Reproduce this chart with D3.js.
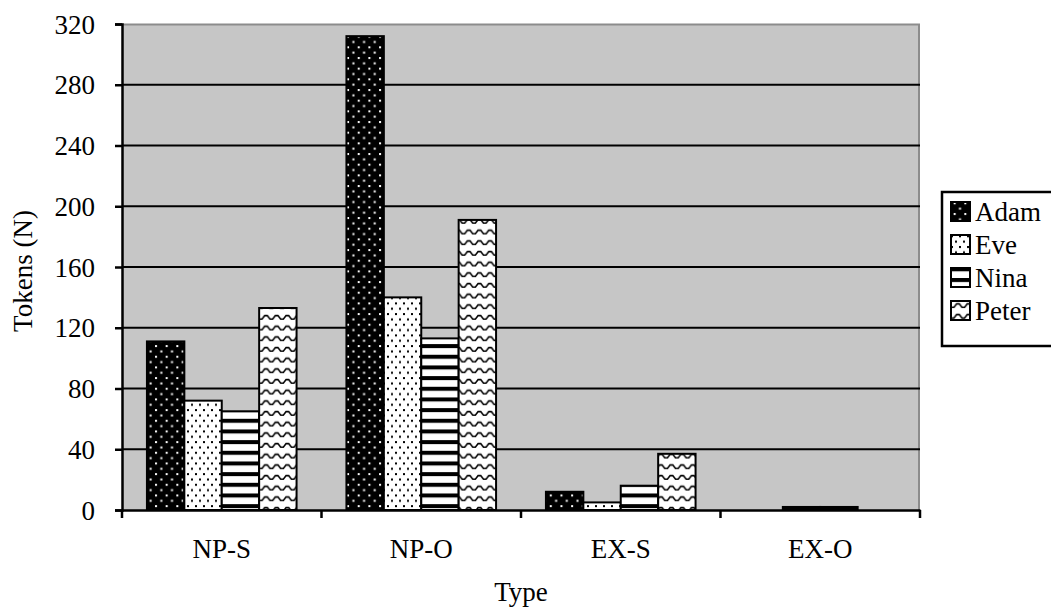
<!DOCTYPE html>
<html>
<head>
<meta charset="utf-8">
<script src="https://cdn.jsdelivr.net/npm/d3@7"></script>
<style>
  body { margin: 0; background: #fff; }
  svg text { font-family: "Times New Roman", "Liberation Serif", "DejaVu Serif", serif; fill: #000; }
</style>
</head>
<body>
<div id="chartDiv"></div>
<script>
// data
var categories = ["NP-S", "NP-O", "EX-S", "EX-O"];
var seriesNames = ["Adam", "Eve", "Nina", "Peter"];
var adam  = [111, 312, 12, 0];
var eve   = [72, 140, 5, 2];
var nina  = [65, 113, 16, 2];
var peter = [133, 191, 37, 0];
var yTicks = [0, 40, 80, 120, 160, 200, 240, 280, 320];

var seriesValues = [adam, eve, nina, peter];
var FONT = "'Times New Roman', 'Liberation Serif', 'DejaVu Serif', serif";

var W = 1051, H = 610;
var margin = {top: 24, right: 131, bottom: 100, left: 122};
var width = W - margin.left - margin.right,
    height = H - margin.top - margin.bottom;

var svg = d3.select("#chartDiv").append("svg")
    .attr("width", W).attr("height", H)
    .attr("font-family", FONT);

// fill patterns (Excel-style)
var defs = svg.append("defs");
var s = 10.67;

var pAdam = defs.append("pattern").attr("id", "p-adam")
    .attr("patternUnits", "userSpaceOnUse").attr("width", s).attr("height", s);
pAdam.append("rect").attr("width", s).attr("height", s).attr("fill", "#000");
pAdam.append("rect").attr("x", 1).attr("y", 1).attr("width", 2).attr("height", 2).attr("fill", "#fff");
pAdam.append("rect").attr("x", 1 + s / 2).attr("y", 1 + s / 2).attr("width", 2).attr("height", 2).attr("fill", "#fff");

var pEve = defs.append("pattern").attr("id", "p-eve")
    .attr("patternUnits", "userSpaceOnUse").attr("width", 8).attr("height", s);
pEve.append("rect").attr("width", 8).attr("height", s).attr("fill", "#fff");
[[1, 1], [5, 1 + s / 2]].forEach(function(p) {
  pEve.append("rect").attr("x", p[0]).attr("y", p[1]).attr("width", 2).attr("height", 2).attr("fill", "#000");
});

var pNina = defs.append("pattern").attr("id", "p-nina")
    .attr("patternUnits", "userSpaceOnUse").attr("width", s).attr("height", s);
pNina.append("rect").attr("width", s).attr("height", s).attr("fill", "#fff");
pNina.append("rect").attr("y", 0).attr("width", s).attr("height", 4).attr("fill", "#000");

var pPeter = defs.append("pattern").attr("id", "p-peter")
    .attr("patternUnits", "userSpaceOnUse").attr("width", s).attr("height", s);
pPeter.append("rect").attr("width", s).attr("height", s).attr("fill", "#fff");
pPeter.append("path")
    .attr("d", "M0,7 L1.3,7 L4,3.5 L6.6,3.5 L9.3,7 L10.67,7")
    .attr("fill", "none").attr("stroke", "#000").attr("stroke-width", 1.6);

var fills = ["url(#p-adam)", "url(#p-eve)", "url(#p-nina)", "url(#p-peter)"];

var g = svg.append("g")
    .attr("transform", "translate(" + margin.left + "," + margin.top + ")");

// scales
var x0 = d3.scaleBand().domain(categories).range([0, width])
    .paddingInner(0.25).paddingOuter(0.125);
var x1 = d3.scaleBand().domain(seriesNames).range([0, x0.bandwidth()]);
var y = d3.scaleLinear().domain([0, 320]).range([height, 0]);

// plot area
g.append("rect").attr("width", width).attr("height", height).attr("fill", "#c6c6c6");
g.append("path")
    .attr("d", "M0,0.5 H" + (width - 1) + " V" + height)
    .attr("fill", "none").attr("stroke", "#8c8c8c").attr("stroke-width", 2);

// gridlines
g.selectAll(".grid").data(yTicks.filter(function(d) { return d > 0 && d < 320; }))
  .enter().append("line")
    .attr("x1", 0).attr("x2", width)
    .attr("y1", function(d) { return y(d); }).attr("y2", function(d) { return y(d); })
    .attr("stroke", "#000").attr("stroke-width", 2);

// bars
var rows = [];
categories.forEach(function(c, i) {
  seriesNames.forEach(function(n, j) {
    rows.push({cat: c, name: n, value: seriesValues[j][i], idx: j});
  });
});
g.selectAll(".bar").data(rows.filter(function(d) { return d.value > 0; }))
  .enter().append("rect")
    .attr("x", function(d) { return x0(d.cat) + x1(d.name); })
    .attr("y", function(d) { return y(d.value); })
    .attr("width", x1.bandwidth())
    .attr("height", function(d) { return height - y(d.value); })
    .attr("fill", function(d) { return d.value < 3 ? "#000" : fills[d.idx]; })
    .attr("stroke", "#000").attr("stroke-width", 2);

// y axis
var yAxis = g.append("g")
    .call(d3.axisLeft(y).tickValues(yTicks).tickSize(7).tickPadding(20));
yAxis.attr("font-family", FONT);
yAxis.select(".domain").attr("stroke-width", 2.5);
yAxis.selectAll(".tick line").attr("stroke-width", 2.5);
yAxis.selectAll("text").attr("font-size", 27).attr("dy", "0.34em");

// x axis
var xAxis = g.append("g").attr("transform", "translate(0," + height + ")")
    .call(d3.axisBottom(x0).tickSize(0).tickPadding(29));
xAxis.attr("font-family", FONT);
xAxis.select(".domain").attr("stroke-width", 2.5);
xAxis.selectAll("text").attr("font-size", 27);
var bounds = d3.range(categories.length + 1).map(function(i) { return i * x0.step(); });
xAxis.selectAll(".bound").data(bounds).enter().append("line")
    .attr("x1", function(d) { return d; }).attr("x2", function(d) { return d; })
    .attr("y1", 0).attr("y2", 8)
    .attr("stroke", "#000").attr("stroke-width", 2.5);

// axis titles
svg.append("text")
    .attr("x", margin.left + width / 2).attr("y", 601)
    .attr("text-anchor", "middle").attr("font-size", 27)
    .text("Type");
svg.append("text")
    .attr("transform", "translate(32," + (margin.top + height / 2 + 4) + ") rotate(-90)")
    .attr("text-anchor", "middle").attr("font-size", 27)
    .text("Tokens (N)");

// legend
var legend = svg.append("g").attr("transform", "translate(942,192)");
legend.append("rect").attr("x", 0).attr("y", 0).attr("width", 120).attr("height", 154)
    .attr("fill", "#fff").attr("stroke", "#000").attr("stroke-width", 2.5);
var item = legend.selectAll(".item").data(seriesNames).enter().append("g")
    .attr("transform", function(d, i) { return "translate(0," + (20 + i * 33) + ")"; });
item.append("rect").attr("x", 9).attr("y", -10).attr("width", 19).attr("height", 19)
    .attr("fill", function(d, i) { return fills[i]; })
    .attr("stroke", "#000").attr("stroke-width", 2);
item.append("text").attr("x", 33).attr("y", 0).attr("dy", "0.34em")
    .attr("font-size", 27).text(function(d) { return d; });
</script>
</body>
</html>
